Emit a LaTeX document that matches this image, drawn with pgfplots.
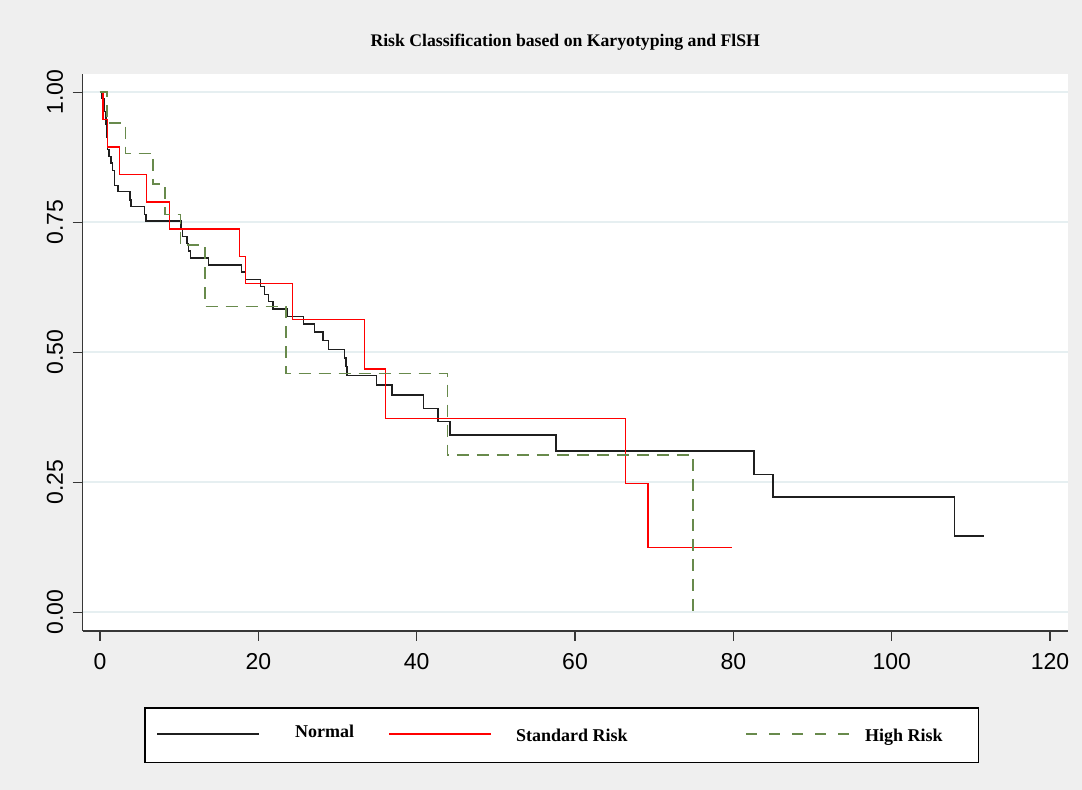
\documentclass[border=0pt]{standalone}
\usepackage{pgfplots}
\pgfplotsset{compat=1.18}
\usepackage{fontspec}
\setmainfont{Liberation Serif}
\newfontfamily\arial{Liberation Sans}
\definecolor{bggray}{RGB}{239,239,239}
\definecolor{gridc}{RGB}{230,239,241}
\definecolor{hrgreen}{RGB}{104,138,76}
\definecolor{axgray}{RGB}{55,55,55}
\tikzset{
  normalstyle/.style={draw=black!88, line width=1.4pt},
  stdstyle/.style={draw=red, line width=1.4pt},
  highstyle/.style={draw=hrgreen, line width=1.7pt, dash pattern=on 12pt off 8pt},
}

\begin{document}
\begin{tikzpicture}[x=1pt,y=1pt]
\path[use as bounding box] (0,0) rectangle (1082,790);
\fill[bggray] (0,0) rectangle (1082,790);
\begin{axis}[
  at={(82.7pt,159pt)}, anchor=south west,
  scale only axis, width=984.8pt, height=557pt,
  xmin=-2.18, xmax=122.2, ymin=-0.036, ymax=1.035,
  axis x line*=bottom, axis y line*=left,
  axis line style={axgray, line width=1.3pt, -},
  axis background/.style={fill=white},
  xtick={0,20,40,60,80,100,120}, xticklabels={0,20,40,60,80,100,120},
  ytick={0,0.25,0.5,0.75,1}, yticklabels={0.00,0.25,0.50,0.75,1.00},
  tick align=outside, major tick length=10pt,
  tick style={axgray, line width=1.3pt},
  ymajorgrids, grid style={gridc, line width=2pt},
  xticklabel style={font=\arial\fontsize{23}{23}\selectfont, yshift=-9pt},
  yticklabel style={font=\arial\fontsize{23}{23}\selectfont, xshift=-6pt, rotate=90, anchor=south},
  title={Risk Classification based on Karyotyping and FlSH},
  title style={font=\bfseries\fontsize{17.7}{20}\selectfont, at={(0.49,1)}, anchor=center, yshift=26pt},
  legend columns=3,
  legend image code/.code={\pgfpathmoveto{\pgfpoint{0pt}{0pt}}\pgfpathlineto{\pgfpoint{102pt}{0pt}}\pgfusepath{discard}},
  legend style={name=kmlegend, at={(0,0)}, anchor=north west, xshift=62.3pt, yshift=-77pt,
    draw=none, fill=white, inner xsep=12pt, inner ysep=17pt,
    /tikz/column sep=0pt,
    font=\bfseries\fontsize{18}{20}\selectfont,
    nodes={inner sep=0pt, text height=16pt, text depth=4pt, anchor=west}},
]
\addplot[const plot, normalstyle] coordinates {
(0,1.000) (0.2,0.988) (0.6,0.963) (0.75,0.938) (0.85,0.913) (0.95,0.890)
(1.15,0.876) (1.4,0.864) (1.6,0.850) (1.85,0.821) (2.3,0.809) (3.8,0.793)
(3.9,0.780) (5.6,0.765) (5.8,0.752) (10.25,0.737) (10.4,0.723) (11.0,0.709)
(11.2,0.695) (11.4,0.681) (13.7,0.668) (17.9,0.654) (18.35,0.640) (20.25,0.626)
(20.75,0.611) (21.3,0.597) (21.85,0.583) (23.6,0.569) (25.7,0.554) (27.1,0.539)
(28.15,0.522) (28.9,0.505) (30.9,0.489) (31.05,0.472) (31.2,0.455) (34.9,0.437)
(36.9,0.418) (40.9,0.392) (42.7,0.367) (44.2,0.341) (57.6,0.310) (82.6,0.265)
(85.0,0.222) (107.9,0.147) (111.7,0.147)
};
\addlegendentry{\makebox[130pt][l]{\hspace{36pt}\raisebox{4pt}{Normal}}}
\addplot[const plot, stdstyle] coordinates {
(0,1.000) (0.38,0.947) (0.92,0.895) (2.44,0.842) (5.9,0.789) (8.75,0.737)
(17.6,0.684) (18.4,0.632) (24.3,0.563) (33.4,0.468) (36.1,0.373) (66.4,0.248)
(69.2,0.125) (79.8,0.125)
};
\addlegendentry{\makebox[255pt][l]{\hspace{25pt}Standard Risk}}
\addplot[const plot, highstyle] coordinates {
(0,1.000) (0.92,0.941) (3.24,0.882) (6.73,0.824) (8.2,0.765) (10.19,0.706)
(13.26,0.588) (23.5,0.459) (43.9,0.302) (74.9,0.000)
};
\addlegendentry{\makebox[118pt][l]{\hspace{17pt}High Risk}}
\end{axis}
\draw[black, line width=1.2pt] (kmlegend.south west) rectangle (kmlegend.north east);
% legend sample lines
\draw[normalstyle] (157,56) -- (259,56);
\draw[stdstyle] (389,56) -- (491,56);
\draw[highstyle, dash pattern=on 11pt off 12pt] (746,56) -- (850,56);
\end{tikzpicture}
\end{document}
